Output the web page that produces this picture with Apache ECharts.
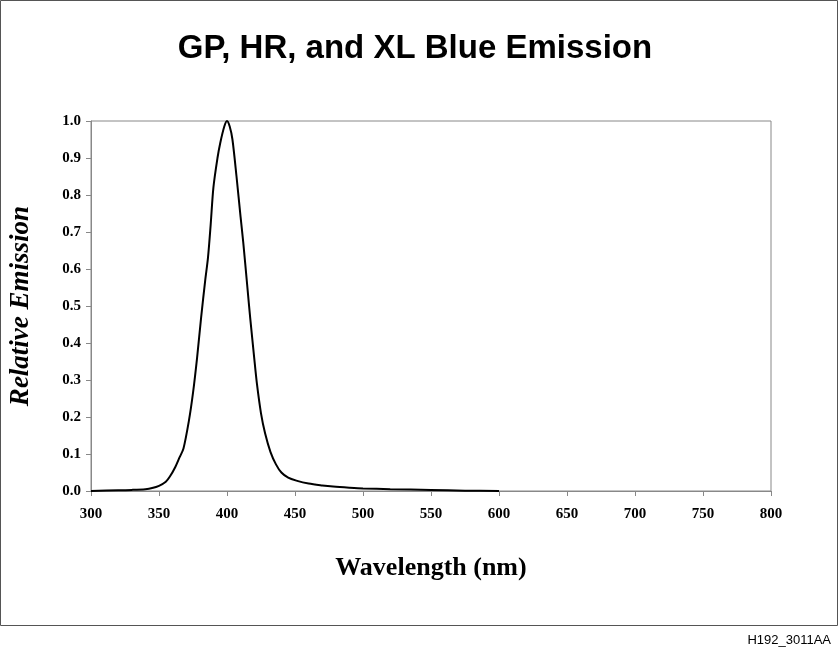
<!DOCTYPE html>
<html><head><meta charset="utf-8">
<script src="https://cdn.jsdelivr.net/npm/echarts@6/dist/echarts.min.js"></script>
<style>html,body{margin:0;padding:0;background:#fff}#c{width:839px;height:656px}</style>
</head><body><div id="c"></div>
<script>
const wavelengths = [300,320,330,340,345,350,355,358,362,365,368,372,375,378,381,384,386,388,390,393,395,398,400,402,404,407,410,412,415,417,420,422,425,428,432,436,440,445,451,460,470,478,490,500,520,550,575,600];
const emission   = [0,0.002,0.003,0.005,0.008,0.014,0.025,0.039,0.065,0.09,0.115,0.19,0.265,0.36,0.47,0.57,0.63,0.72,0.82,0.9,0.94,0.985,1.0,0.985,0.95,0.85,0.74,0.67,0.55,0.47,0.36,0.29,0.21,0.156,0.105,0.072,0.05,0.036,0.028,0.02,0.015,0.012,0.009,0.007,0.005,0.003,0.001,0];
const chart = echarts.init(document.getElementById('c'));
chart.setOption({
  animation:false,
  title:{text:'GP, HR, and XL Blue Emission',left:410,top:27,textAlign:'center',
    textStyle:{fontFamily:'Liberation Sans',fontWeight:'bold',fontSize:33,color:'#000'}},
  graphic:[{type:'rect',shape:{x:0.5,y:0.5,width:837,height:625},style:{fill:'none',stroke:'#555',lineWidth:1}},
    {type:'text',right:8,top:634,style:{text:'H192_3011AA',font:'13px Liberation Sans',fill:'#000'}}],
  grid:{left:91,right:68,top:121,bottom:165,show:true,borderColor:'#888',borderWidth:1},
  xAxis:{type:'value',min:300,max:800,interval:50,name:'Wavelength (nm)',nameLocation:'middle',nameGap:64,
    nameTextStyle:{fontFamily:'Liberation Serif',fontWeight:'bold',fontSize:26,color:'#000'},
    axisLine:{lineStyle:{color:'#888'}},axisTick:{show:true,inside:false,length:5,lineStyle:{color:'#888'}},
    axisLabel:{fontFamily:'Liberation Serif',fontWeight:'bold',fontSize:15,color:'#000',margin:16},splitLine:{show:false}},
  yAxis:{type:'value',min:0,max:1,interval:0.1,name:'Relative Emission',nameLocation:'middle',nameGap:56,
    nameTextStyle:{fontFamily:'Liberation Serif',fontWeight:'bold',fontStyle:'italic',fontSize:27,color:'#000'},
    axisLine:{show:true,lineStyle:{color:'#888'}},axisTick:{show:true,length:5,lineStyle:{color:'#888'}},
    axisLabel:{fontFamily:'Liberation Serif',fontWeight:'bold',fontSize:15,color:'#000',margin:10,formatter:v=>v.toFixed(1)},splitLine:{show:false}},
  series:[{type:'line',data:wavelengths.map((w,i)=>[w,emission[i]]),smooth:0.3,showSymbol:false,
    lineStyle:{color:'#000',width:2}}]
});
</script></body></html>
